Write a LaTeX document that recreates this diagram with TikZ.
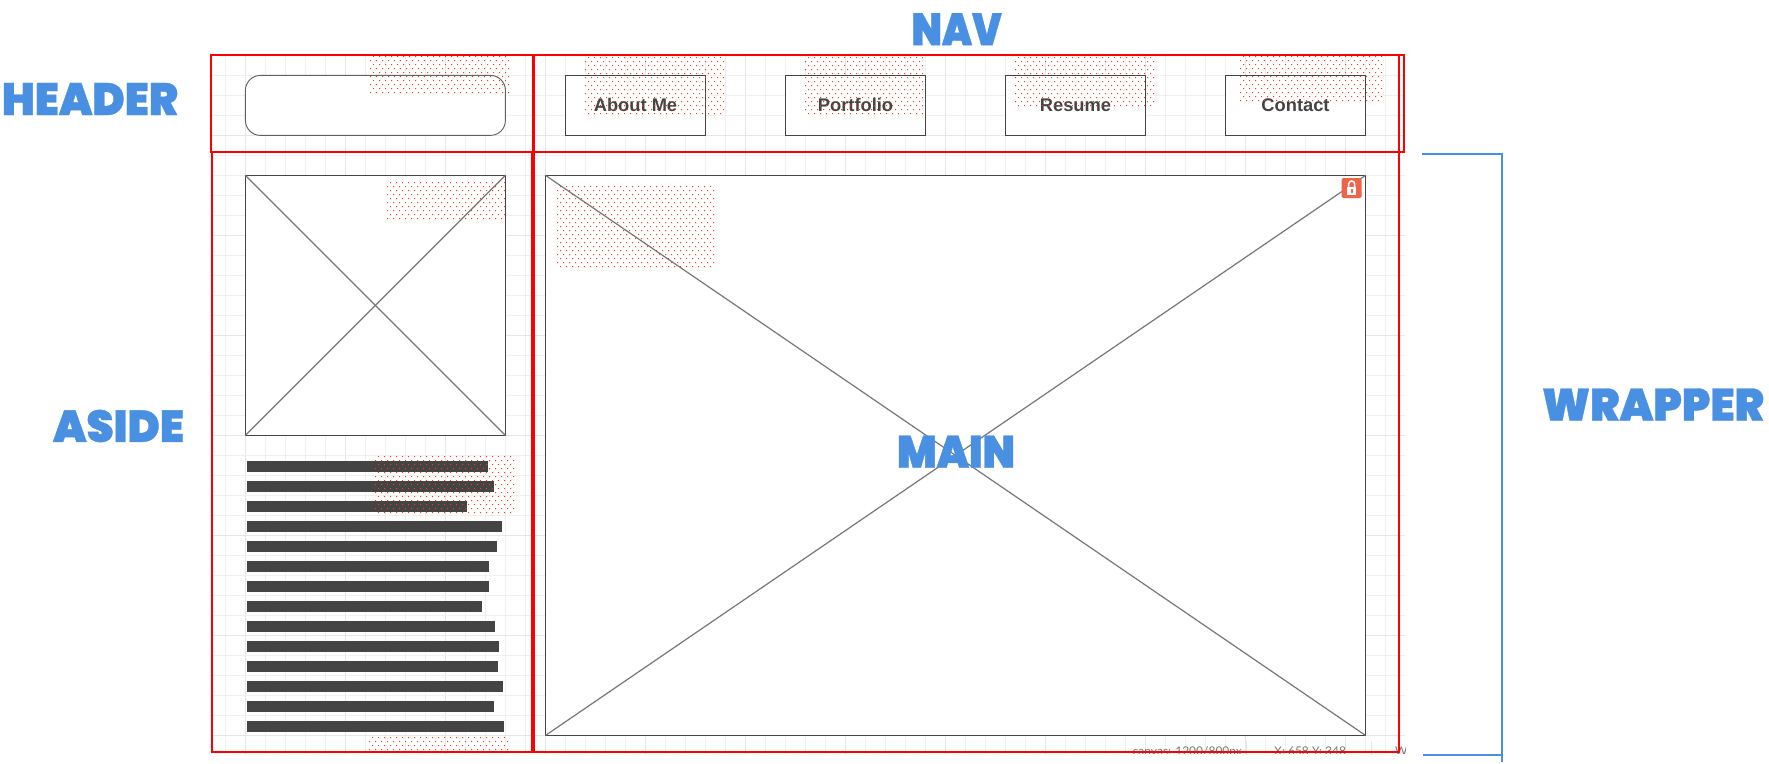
\documentclass[tikz,border=0pt]{standalone}
\usepackage{fontspec}
\setmainfont{Liberation Sans}
\newfontfamily\lab{Poppins Black}
\newfontfamily\stat{Lato}
\definecolor{blu}{HTML}{4A90E2}
\definecolor{ink}{HTML}{444444}
\definecolor{dia}{HTML}{777777}
\definecolor{gmin}{HTML}{F0F0F0}
\definecolor{gmaj}{HTML}{E6E6E6}
\definecolor{dotc}{HTML}{F53A20}
\definecolor{lockc}{HTML}{F0624A}
\tikzset{
  wire/.style={draw=ink,line width=1.1pt,fill=white,inner sep=0pt,outer sep=0pt,anchor=north west},
  cross/.style={draw=dia,line width=1.2pt},
  btn/.style={wire,minimum width=140pt,minimum height=60pt,font=\fontsize{18.3}{18}\bfseries,text=ink},
  zone/.style={draw=red,line width=2.6pt,fill=none,inner sep=0pt,outer sep=0pt,anchor=north west},
  title/.style={text=blu,inner sep=0pt,outer sep=0pt,anchor=center},
  bar/.style={fill=ink,draw=none,inner sep=0pt,outer sep=0pt,anchor=north west,minimum height=11pt},
  bracket/.style={draw=blu,line width=2pt}
}
\newcommand\dotpatch[4]{%
  \foreach \ry [count=\ri] in {#2,\dotnext{#2},...,#4}{%
    \pgfmathsetmacro\xs{#1+mod(\ri,2)*3}%
    \pgfmathsetmacro\xn{\xs+6}%
    \fill[dotc] \foreach \rx in {\xs,\xn,...,#3}{(\rx,\ry) rectangle ++(1.1,1.1)};
  }}
\newcommand\dotnext[1]{\the\numexpr#1+4\relax}
\newcommand\ttl[3]{\resizebox{#1pt}{#2pt}{\lab\addfontfeature{FakeBold=0.8}#3}}
\newcommand\bl[1]{\raisebox{-1.4pt}{#1}}
\begin{document}
\begin{tikzpicture}[x=1pt,y=-1pt]
\useasboundingbox (0,0) rectangle (1769,763);
\fill[white] (0,0) rectangle (1769,763);
% grid
\foreach \k in {0,...,58}{
  \pgfmathsetmacro\gx{225.3+20*\k}
  \pgfmathtruncatemacro\m{mod(\k+4,5)}
  \ifnum\m=0 \draw[gmaj,line width=1pt] (\gx,55)--(\gx,754);
  \else \draw[gmin,line width=1pt] (\gx,55)--(\gx,754);\fi
}
\foreach \k in {0,...,33}{
  \pgfmathsetmacro\gy{75.3+20*\k}
  \pgfmathtruncatemacro\m{mod(\k+2,5)}
  \ifnum\m=0 \draw[gmaj,line width=1pt] (211,\gy)--(1405,\gy);
  \else \draw[gmin,line width=1pt] (211,\gy)--(1405,\gy);\fi
}
% wireframe shapes
\node[wire,draw=ink!85,line width=0.9pt,rounded corners=15pt,minimum width=260pt,minimum height=60pt] (logo) at (245.4,75.4) {};
\node[btn] (about) at (565.5,75.4) {\bl{About Me}};
\node[btn] (port) at (785.5,75.4) {\bl{Portfolio}};
\node[btn] (res) at (1005.5,75.4) {\bl{Resume}};
\node[btn] (cont) at (1225.5,75.4) {\bl{Contact}};
\node[wire,minimum width=260pt,minimum height=260pt] (av) at (245.4,175.4) {};
\draw[cross] (av.north west)--(av.south east);
\draw[cross] (av.north east)--(av.south west);
\node[wire,minimum width=820pt,minimum height=560pt] (hero) at (545.5,175.4) {};
\draw[cross] (hero.north west)--(hero.south east);
\draw[cross] (hero.north east)--(hero.south west);
\foreach \w [count=\i from 0] in {241,247,220,255,250,242,242,235,248,252,251,256,247,257}{
  \node[bar,minimum width=\w pt] (bar\i) at (247,461+20*\i) {};
}
% dotted overlays
\dotpatch{370}{56}{509}{93}
\dotpatch{585}{57}{724}{115}
\dotpatch{805}{57}{924}{113}
\dotpatch{1015}{57}{1154}{107}
\dotpatch{1240}{56}{1381}{103}
\dotpatch{387}{182}{505}{219}
\dotpatch{557}{186}{715}{266}
\dotpatch{375}{456}{514}{513}
\dotpatch{369}{737}{508}{750}
% status bar
\begin{scope}
\clip (1100,740) rectangle (1405,753);
\node[anchor=base west,inner sep=0pt,text=dia,font=\stat\fontsize{12}{14}\selectfont] (canv) at (1132.5,755) {canvas: 1200/800px};
\node[anchor=base west,inner sep=0pt,text=dia,font=\stat\fontsize{12}{14}\selectfont] (xy) at (1274,755) {X: 658 Y: 348};
\node[anchor=base west,inner sep=0pt,text=dia,font=\stat\fontsize{12}{14}\selectfont] (w) at (1395,755) {W};
\end{scope}
\draw[gmaj,line width=1pt] (1246.5,741)--(1246.5,755);
\draw[gmaj,line width=1pt] (1371,741)--(1371,755);
% red zones
\node[zone,minimum width=322pt,minimum height=97pt] (hdr) at (211,55) {};
\node[zone,minimum width=871pt,minimum height=97pt] (nav) at (533,55) {};
\node[zone,minimum width=320pt,minimum height=600pt] (asd) at (212,152) {};
\node[zone,minimum width=865pt,minimum height=697pt] (mn) at (534,55) {};
% lock badge
\node[fill=lockc,rounded corners=1.5pt,minimum width=20pt,minimum height=20pt,inner sep=0pt,outer sep=0pt] (lock) at (1351.7,188) {};
\fill[white] ([xshift=-4.5pt,yshift=-6.5pt]lock.center) rectangle ([xshift=4.5pt,yshift=1pt]lock.center);
\draw[white,line width=1.5pt] ([xshift=-3pt,yshift=1pt]lock.center) -- ++(0,-3) arc[start angle=180,end angle=0,x radius=3,y radius=-3] -- ++(0,3);
\fill[lockc] ([xshift=-1pt,yshift=-4.5pt]lock.center) rectangle ([xshift=1pt,yshift=-1pt]lock.center);
% titles
\node[title] (tHeader) at (90,99) {\ttl{176}{32}{HEADER}};
\node[title] (tNav) at (956.7,29.2) {\ttl{90}{32}{NAV}};
\node[title] (tAside) at (118.5,426) {\ttl{131}{32}{ASIDE}};
\node[title] (tMain) at (956,451.7) {\ttl{118}{32}{MAIN}};
\node[title] (tWrap) at (1653,404.5) {\ttl{222}{32}{WRAPPER}};
% wrapper bracket
\coordinate (bt) at (1422,154);
\coordinate (bc) at (1502,154);
\coordinate (bb) at (1502,762);
\coordinate (bs) at (1423,755);
\coordinate (bm) at (1502,755);
\draw[bracket] (bt)--(bc)--(bb);
\draw[bracket] (bs)--(bm);
\end{tikzpicture}
\end{document}
